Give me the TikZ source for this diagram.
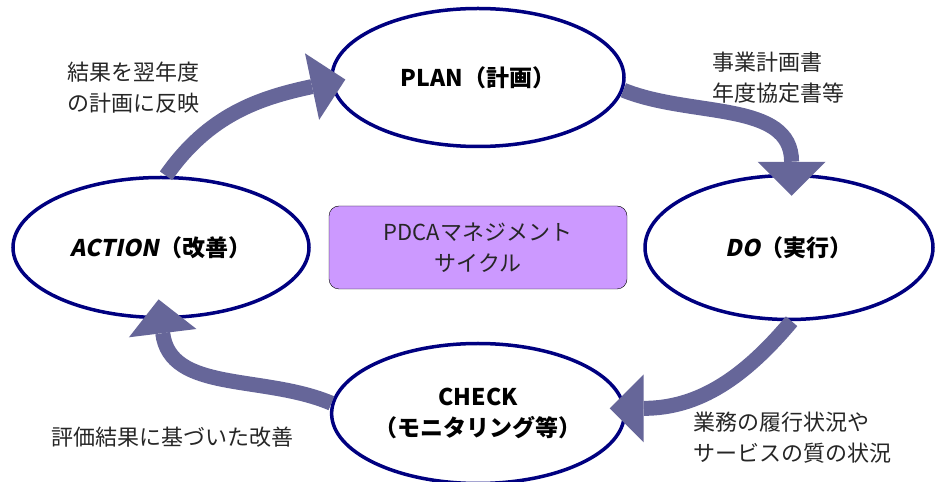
\documentclass[tikz,border=0pt]{standalone}
\usepackage{fontspec}
\setmainfont{Noto Sans CJK JP}
\newfontfamily\slantfont{Noto Sans CJK JP}[FakeSlant=0.2]
\usetikzlibrary{shapes, arrows.meta, positioning}
\definecolor{ringblue}{RGB}{0,0,128}
\definecolor{flowblue}{RGB}{102,102,153}
\definecolor{boxviolet}{RGB}{204,153,255}

\begin{document}
\begin{tikzpicture}[x=1pt, y=1pt, node distance=170pt]

    % Define block styles
    \tikzstyle{phase} = [ellipse, draw=ringblue, line width=3.5pt, fill=white,
        minimum width=292pt, minimum height=138pt, inner sep=0pt, align=center,
        font=\fontsize{23}{31}\selectfont\bfseries]
    \tikzstyle{cyclebox} = [rectangle, draw, fill=boxviolet, rounded corners=10pt,
        minimum width=298pt, minimum height=83pt, align=center, text=black!85,
        font=\fontsize{22}{31}\selectfont]
    \tikzstyle{flow} = [draw=flowblue, line width=15pt,
        -{Triangle[width=68pt, length=34pt, line width=0pt]}]
    \tikzstyle{note} = [inner sep=0pt, align=left, text=black!85,
        font=\fontsize{22}{31}\selectfont]

    \useasboundingbox (0,0) rectangle (935,482);

    % Define nodes
    \node [cyclebox] (cycle) at (478,234.5) {PDCAマネジメント\\サイクル};
    \node [phase, above of=cycle, node distance=170pt] (plan) {PLAN（計画）};
    \node [phase, right of=cycle, node distance=311pt, minimum width=288pt,
        minimum height=144pt] (do) {{\slantfont DO}（実行）};
    \node [phase, below of=cycle, node distance=166pt, minimum height=140pt]
        (check) {CHECK\\（モニタリング等）};
    \node [phase, left of=cycle, node distance=317pt, minimum width=296pt,
        minimum height=140pt] (action) {{\slantfont ACTION}（改善）};

    % Notes beside the arrows
    \node [note, anchor=west] (plannote) at (67,394.5) {結果を翌年度\\の計画に反映};
    \node [note, anchor=west] (donote) at (712,404.5) {事業計画書\\年度協定書等};
    \node [note, anchor=west] (checknote) at (693,44.5) {業務の履行状況や\\サービスの質の状況};
    \node [note] (actionnote) at (172.5,45) {評価結果に基づいた改善};

    % Draw edges
    \path [flow, shorten >=-15pt] (action.86) to[out=55, in=192] (plan.182);
    \path [flow, shorten >=-22pt] (plan.-5) to[out=-22, in=90] (do.88);
    \path [flow, shorten >=-16pt] (do.-88) to[out=-130, in=0] (check.2);
    \path [flow, shorten >=-20pt] (check.176) to[out=157, in=-83] (action.-90);

\end{tikzpicture}
\end{document}
